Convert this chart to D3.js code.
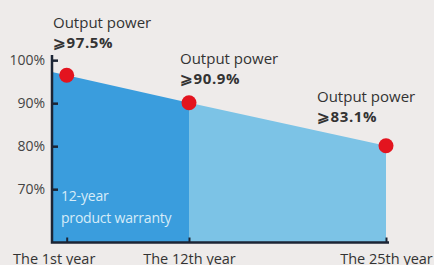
<!DOCTYPE html>
<html>
<head>
<meta charset="utf-8">
<script src="https://cdn.jsdelivr.net/npm/d3@7"></script>
<style>
  html, body { margin: 0; padding: 0; background: #eeebea; }
  svg { display: block; font-family: "Open Sans", sans-serif; }
</style>
</head>
<body>
<div id="chart"></div>
<script>
// chart values
const years = [1, 12, 25];
const yearLabels = ['The 1st year', 'The 12th year', 'The 25th year'];
const plotValues = [96.5, 90.1, 80.1];          // where the dots sit in the picture
const powerLabels = ['\u2a7e97.5%', '\u2a7e90.9%', '\u2a7e83.1%'];
const yTicks = [70, 80, 90, 100];
const warrantyYear = 12;

const W = 434, H = 265;

const svg = d3.select('#chart')
  .append('svg')
  .attr('width', W)
  .attr('height', H);

const x = d3.scaleLinear().domain(years).range([66.7, 189, 386]);
const y = d3.scaleLinear().domain([57.6, 101.2]).range([242.5, 55]);

const axisX = 52;
const axisEnd = 389;

// extend first segment back to the y axis
const extrap = d3.scaleLinear()
  .domain([x(years[0]), x(years[1])])
  .range([y(plotValues[0]), y(plotValues[1])]);

const pts = years.map((yr, i) => ({ px: x(yr), py: y(plotValues[i]) }));
const startPt = { px: axisX, py: extrap(axisX) };

const area = d3.area()
  .x(d => d.px)
  .y0(y(57.6))
  .y1(d => d.py);

const split = years.indexOf(warrantyYear);

svg.append('path')
  .attr('d', area([startPt].concat(pts.slice(0, split + 1))))
  .attr('fill', '#3a9ddd');

svg.append('path')
  .attr('d', area(pts.slice(split)))
  .attr('fill', '#7cc3e6');

// warranty note
const note = svg.append('text')
  .attr('fill', '#d6ecf8')
  .style('font-size', '14px')
  .style('letter-spacing', '-0.2px');
note.append('tspan').attr('x', 61).attr('y', 201).text('12-year');
note.append('tspan').attr('x', 61).attr('y', 223).text('product warranty');

// y axis
const yAxis = d3.axisLeft(y)
  .tickValues(yTicks)
  .tickSizeInner(-6)
  .tickSizeOuter(0)
  .tickPadding(7)
  .tickFormat(d => d + '%');

const gy = svg.append('g')
  .attr('transform', `translate(${axisX},0)`)
  .call(yAxis);

gy.select('.domain').remove();
gy.selectAll('line').attr('stroke', '#1c2535').attr('stroke-width', 2.5);
gy.selectAll('text')
  .attr('fill', '#444')
  .style('font-size', '14px')
  .style('font-family', '"Open Sans", sans-serif');

// x axis
const xAxis = d3.axisBottom(x)
  .tickValues(years)
  .tickSizeInner(-5)
  .tickSizeOuter(0)
  .tickFormat((d, i) => yearLabels[i]);

const gx = svg.append('g')
  .attr('transform', `translate(0,${y(57.6)})`)
  .call(xAxis);

gx.select('.domain').remove();
gx.selectAll('line').attr('stroke', '#1c2535').attr('stroke-width', 2);
gx.selectAll('text')
  .attr('y', 0)
  .attr('dy', 21)
  .attr('dx', (d, i) => i === 0 ? -13 : 0)
  .attr('fill', '#333')
  .style('font-size', '14.5px')
  .style('font-family', '"Open Sans", sans-serif');

// axis lines
svg.append('path')
  .attr('d', d3.line()([[axisX, y(101.2)], [axisX, y(57.6)], [axisEnd, y(57.6)]]))
  .attr('fill', 'none')
  .attr('stroke', '#1c2535')
  .attr('stroke-width', 2.5);

// dots
svg.selectAll('.dot')
  .data(pts)
  .join('circle')
  .attr('class', 'dot')
  .attr('cx', d => d.px)
  .attr('cy', d => d.py)
  .attr('r', 7.5)
  .attr('fill', '#e3141f');

// callouts
const callX = [53, 180, 317];
const callY = [28, 64, 102];
callX.forEach((cx, i) => {
  const t = svg.append('text').attr('fill', '#333');
  t.append('tspan').attr('x', cx).attr('y', callY[i])
    .style('font-size', '15px').text('Output power');
  t.append('tspan').attr('x', cx).attr('y', callY[i] + 20)
    .style('font-size', '15px').style('font-weight', 'bold').style('letter-spacing', '0.6px')
    .text(powerLabels[i]);
});
</script>
</body>
</html>
